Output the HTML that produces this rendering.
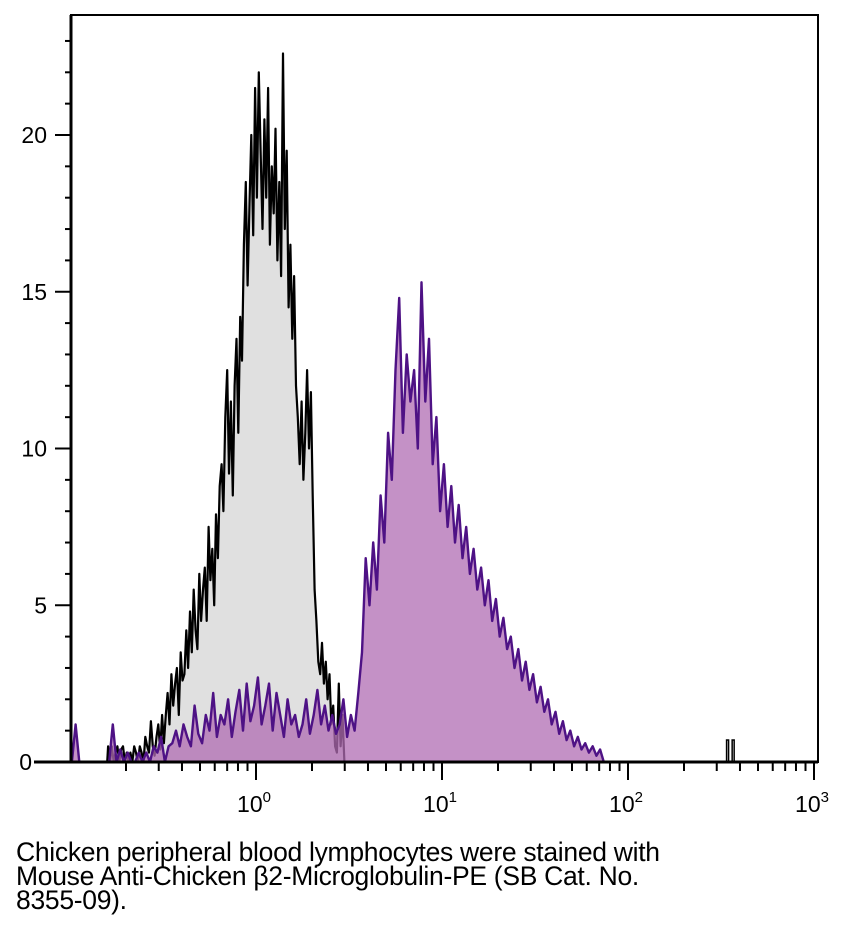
<!DOCTYPE html>
<html><head><meta charset="utf-8"><style>
body{margin:0;background:#fff;width:848px;height:937px;overflow:hidden;font-family:"Liberation Sans",sans-serif}
#cap{position:absolute;left:16px;top:840px;font-size:26.5px;line-height:24px;color:#000;letter-spacing:-0.3px}
</style></head><body>
<svg id="chart" width="848" height="830" style="position:absolute;left:0;top:0"></svg>
<div id="cap">Chicken peripheral blood lymphocytes were stained with<br>Mouse Anti-Chicken β2-Microglobulin-PE (SB Cat. No.<br>8355-09).</div>
<script>
const controlStart=-0.80, controlStep=0.01;
const controlValues=[0.5,0,0.5,0,0.3,0.5,0,0.4,0.5,0,0.3,
0,0.3,0,0.5,0.3,0,0.5,0.3,0,0.8,
0.5,0.3,1.3,0.5,0.2,0.8,1.2,0.4,1.5,0.6,
1.5,2.2,1.2,2.8,1.8,2.5,3.0,1.5,3.5,2.6,
2.8,4.2,3.0,4.8,3.5,5.5,4.2,3.6,6.0,4.5,
5.5,6.2,4.5,7.5,5.8,6.8,5.0,7.9,6.5,8.8,
9.5,8.0,11.0,12.5,9.2,11.5,8.5,12.0,13.5,10.5,
14.2,12.8,16.5,18.5,15.2,17.8,20.0,16.8,21.5,18.0,
22.0,19.5,17.0,20.5,18.0,21.5,16.5,19.0,17.5,20.2,
16.0,18.5,15.5,22.6,17.0,19.5,14.5,16.5,13.5,15.5,
12.0,11.0,9.5,11.5,9.0,10.5,12.5,10.0,11.8,8.5,
5.5,4.5,3.2,2.8,3.8,2.5,3.2,2.0,2.8,1.2,
1.8,0.5,0.3,2.5,0.5,1.5,0];
const controlOutlierLogs=[2.53,2.56];
const controlOutlierValues=[0.4,0.4];
const stainedStart=-1.0, stainedStep=0.02;
const stainedValues=[0,1.2,0,0,0,0,0,0,0,0,
0,1.2,0,0.4,0,0.3,0,0,0.3,0,
0.3,0,0.5,0.3,0.8,0,0.5,0.6,1.0,0.5,
1.2,0.8,0.5,1.8,0.9,0.6,1.5,1.0,2.2,0.8,
1.5,1.2,2.0,0.8,1.6,2.3,1.0,2.5,1.3,1.8,
2.7,1.2,1.8,2.5,1.0,2.2,1.5,0.8,2.0,1.2,
1.5,0.8,1.2,2.0,0.9,1.5,2.3,1.2,1.8,1.0,
1.5,0.9,1.2,2.0,0.8,1.5,1.0,2.2,
3.5,6.5,5.0,7.0,5.5,8.5,7.0,10.5,9.0,12.5,
14.8,10.5,13.0,11.5,12.5,10.0,15.3,11.5,13.5,9.5,
11.0,8.0,9.5,7.5,8.8,7.0,8.2,6.5,7.5,6.0,
6.8,5.5,6.2,5.0,5.8,4.5,5.2,4.0,4.6,3.6,
4.0,3.0,3.6,2.6,3.2,2.3,2.8,1.9,2.4,1.6,
2.0,1.2,1.6,0.9,1.3,0.7,1.0,0.5,0.8,0.4,
0.6,0.3,0.5,0.2,0.4,0];
const yTicks=[0,5,10,15,20];
const xDecades=[0,1,2,3];

const svg=document.getElementById('chart');
const NS='http://www.w3.org/2000/svg';
const L=71,R=818,T=15,B=762;
const X=lg=>256+lg*186;
const Y=v=>B-v*31.35;
function mk(tag,attrs,parent){const e=document.createElementNS(NS,tag);for(const k in attrs)e.setAttribute(k,attrs[k]);(parent||svg).appendChild(e);return e;}
function linePath(start,step,vals,close){
  let d='M'+X(start).toFixed(1)+','+B;
  vals.forEach((v,i)=>{d+=' L'+X(start+(i+0.5)*step).toFixed(1)+','+Y(v).toFixed(1);});
  d+=' L'+X(start+vals.length*step).toFixed(1)+','+B;
  if(close)d+=' Z';return d;
}
const frame=mk('rect',{x:L,y:T,width:R-L,height:B-T,fill:'none',stroke:'#000','stroke-width':2});

const cf=mk('path',{d:linePath(controlStart,controlStep,controlValues,true),fill:'#e0e0e0',stroke:'none'});

const cl=mk('path',{d:linePath(controlStart,controlStep,controlValues,false),fill:'none',stroke:'#000','stroke-width':2.2,'stroke-linejoin':'round'});

controlOutlierLogs.forEach((lg,i)=>{const o=mk('path',{d:'M'+X(lg)+','+B+' V'+Y(controlOutlierValues[i]+0.3)+' h2 V'+B,fill:'none',stroke:'#000','stroke-width':1.5});
});
const sf=mk('path',{d:linePath(stainedStart,stainedStep,stainedValues,true),fill:'#b06cb3','fill-opacity':0.75,stroke:'none'});

const sl=mk('path',{d:linePath(stainedStart,stainedStep,stainedValues,false),fill:'none',stroke:'#4e1285','stroke-width':2.4,'stroke-linejoin':'round'});

const xa=mk('line',{x1:34,y1:B,x2:R,y2:B,stroke:'#000','stroke-width':3});

const ya=mk('line',{x1:L,y1:T,x2:L,y2:B,stroke:'#000','stroke-width':3});

for(let v=0;v<=23;v++){const major=yTicks.includes(v);
  const t=mk('line',{x1:major?55:65,y1:Y(v),x2:L,y2:Y(v),stroke:'#000','stroke-width':2});
  }
yTicks.forEach(v=>{const t=mk('text',{x:v===0?32:47,y:Y(v)+8,'text-anchor':'end','font-size':23,'font-family':'Liberation Sans, sans-serif'});t.textContent=v;
  });
for(let d=-1;d<3;d++){for(let m=2;m<=10;m++){const lg=d+Math.log10(m);if(lg<-0.9)continue;const major=m===10;
  const t=mk('line',{x1:X(lg),y1:B,x2:X(lg),y2:major?780:771,stroke:'#000','stroke-width':2});
  }}
xDecades.forEach(d=>{const t=mk('text',{x:X(d)-2,y:812,'text-anchor':'middle','font-size':23,'font-family':'Liberation Sans, sans-serif'});
  t.textContent='10';const s=mk('tspan',{dy:-10,'font-size':15},t);s.textContent=d;
  });
</script>
</body></html>
